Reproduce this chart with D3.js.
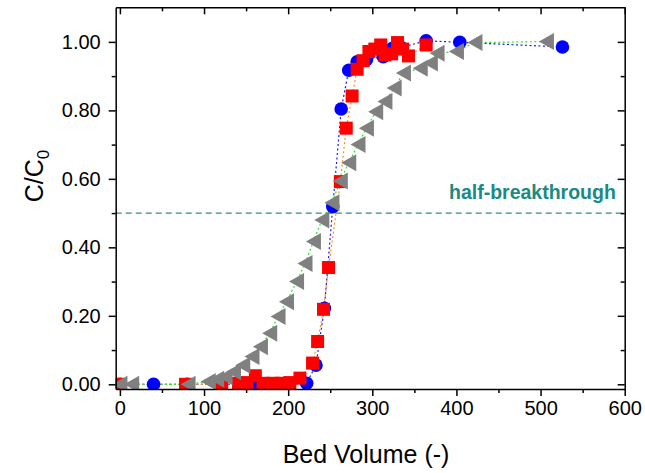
<!DOCTYPE html>
<html>
<head>
<meta charset="utf-8">
<script src="https://cdn.jsdelivr.net/npm/d3@7/dist/d3.min.js"></script>
<style>
    body { margin: 0; background: #fff; }
    svg { font-family: "Liberation Sans", Arial, sans-serif; }
</style>
</head>
<body>
<svg id="chart" width="645" height="473"></svg>
<script>
    "use strict";
    // series: bed volume (-) vs C/C0
    var blueBV  = [0, 40, 80, 142, 160, 200, 222, 233, 243, 253, 263, 272, 282, 293, 313, 324, 334, 364, 404, 526],
        blueC   = [0, 0, 0, 0, 0, 0, 0.003, 0.056, 0.222, 0.519, 0.804, 0.917, 0.942, 0.948, 0.957, 0.981, 0.984, 1.003, 0.999, 0.985];
    var redBV   = [0, 78, 121, 141, 151, 161, 170, 182, 192, 202, 214, 229, 235, 242, 248, 262, 269, 276, 282, 289, 296, 303, 310, 315, 323, 330, 336, 343, 364],
        redC    = [0, 0, 0, 0.003, 0.005, 0.025, 0.003, 0.003, 0.003, 0.005, 0.018, 0.062, 0.125, 0.219, 0.341, 0.592, 0.748, 0.842, 0.92, 0.945, 0.972, 0.979, 0.991, 0.962, 0.965, 0.998, 0.979, 0.959, 0.991];
    var grayBV  = [0, 14, 81, 105, 115, 125, 135, 146, 157, 167, 178, 188, 198, 210, 220, 230, 240, 252, 262, 272, 283, 293, 304, 315, 326, 337, 357, 369, 377, 400, 422, 507],
        grayC   = [0, 0, 0, 0.008, 0.015, 0.022, 0.037, 0.056, 0.081, 0.11, 0.149, 0.198, 0.241, 0.30, 0.353, 0.417, 0.48, 0.53, 0.594, 0.647, 0.70, 0.748, 0.796, 0.826, 0.865, 0.909, 0.923, 0.938, 0.967, 0.972, 0.998, 1.001];
    var xTicks  = [0, 100, 200, 300, 400, 500, 600],
        xMinor  = [50, 150, 250, 350, 450, 550],
        yTicks  = [0, 0.2, 0.4, 0.6, 0.8, 1.0],
        yMinor  = [0.1, 0.3, 0.5, 0.7, 0.9],
        halfLevel = 0.5;

    var margin = {left: 115.7, top: 7.3},
        w = 509,
        h = 381.7;

    var svg = d3.select("#chart");
    var g = svg.append("g").attr("transform", "translate(" + margin.left + "," + margin.top + ")");

    var x = d3.scaleLinear().domain([-5, 600]).range([0, w]),
        y = d3.scaleLinear().domain([-0.0137, 1.101]).range([h, 0]);

    g.append("clipPath").attr("id", "clip")
        .append("rect").attr("width", w).attr("height", h);

    function zip(a, b) {
        return a.map(function (d, i) { return {x: d, y: b[i]}; });
    }
    var series = [
        {data: zip(blueBV, blueC), line: "#1a1aff", fill: "#0000ff", shape: "circle"},
        {data: zip(redBV, redC), line: "#ff8c1a", fill: "#ff0000", shape: "square"},
        {data: zip(grayBV, grayC), line: "#33e033", fill: "#808080", shape: "triangle"}
    ];

    // half-breakthrough reference
    g.append("line")
        .attr("x1", 0).attr("x2", w)
        .attr("y1", y(halfLevel)).attr("y2", y(halfLevel))
        .attr("stroke", "#2a8f8c")
        .attr("stroke-width", 1.2)
        .attr("stroke-dasharray", "6,4");
    svg.append("text")
        .attr("x", 449).attr("y", 199)
        .attr("fill", "#1a8a84")
        .attr("font-weight", "bold")
        .attr("font-size", 19.5)
        .text("half-breakthrough");

    var plot = g.append("g").attr("clip-path", "url(#clip)");
    var line = d3.line().x(function (d) { return x(d.x); }).y(function (d) { return y(d.y); });

    series.forEach(function (s) {
        plot.append("path")
            .datum(s.data)
            .attr("d", line)
            .attr("fill", "none")
            .attr("stroke", s.line)
            .attr("stroke-width", 1.2)
            .attr("stroke-dasharray", "2,2.5");
    });

    var tri = "M-7.5,0L7.5,-8.5L7.5,8.5Z";
    series.forEach(function (s) {
        var m = plot.append("g").selectAll(".pt").data(s.data).enter();
        if (s.shape === "circle") {
            m.append("circle")
                .attr("cx", function (d) { return x(d.x); })
                .attr("cy", function (d) { return y(d.y); })
                .attr("r", 6.8)
                .attr("fill", s.fill);
        } else if (s.shape === "square") {
            m.append("rect")
                .attr("x", function (d) { return x(d.x) - 6.5; })
                .attr("y", function (d) { return y(d.y) - 6.5; })
                .attr("width", 13).attr("height", 13)
                .attr("fill", s.fill);
        } else {
            m.append("path")
                .attr("d", tri)
                .attr("transform", function (d) { return "translate(" + x(d.x) + "," + y(d.y) + ")"; })
                .attr("fill", s.fill);
        }
    });

    // axes
    function styleAxis(sel) {
        sel.selectAll("path, line").attr("stroke", "#000").attr("stroke-width", 1.5);
        sel.selectAll("text").attr("font-size", 20).attr("fill", "#000");
        sel.attr("font-family", null);
    }
    var none = function () { return ""; };

    g.append("g").attr("transform", "translate(0," + h + ")")
        .call(d3.axisBottom(x).tickValues(xTicks).tickSize(7).tickSizeOuter(0).tickPadding(5))
        .call(styleAxis);
    g.append("g").attr("transform", "translate(0," + h + ")")
        .call(d3.axisBottom(x).tickValues(xMinor).tickSize(4).tickFormat(none))
        .call(styleAxis).select(".domain").remove();
    g.append("g")
        .call(d3.axisBottom(x).tickValues(xTicks).tickSize(7).tickSizeOuter(0).tickFormat(none))
        .call(styleAxis);
    g.append("g")
        .call(d3.axisBottom(x).tickValues(xMinor).tickSize(4).tickFormat(none))
        .call(styleAxis).select(".domain").remove();

    g.append("g")
        .call(d3.axisLeft(y).tickValues(yTicks).tickSize(7).tickSizeOuter(0).tickPadding(8).tickFormat(d3.format(".2f")))
        .call(styleAxis);
    g.append("g")
        .call(d3.axisLeft(y).tickValues(yMinor).tickSize(4).tickFormat(none))
        .call(styleAxis).select(".domain").remove();
    g.append("g").attr("transform", "translate(" + w + ",0)")
        .call(d3.axisLeft(y).tickValues(yTicks).tickSize(7).tickSizeOuter(0).tickFormat(none))
        .call(styleAxis);
    g.append("g").attr("transform", "translate(" + w + ",0)")
        .call(d3.axisLeft(y).tickValues(yMinor).tickSize(4).tickFormat(none))
        .call(styleAxis).select(".domain").remove();

    // titles
    svg.append("text")
        .attr("x", 366).attr("y", 463)
        .attr("text-anchor", "middle")
        .attr("font-size", 25)
        .text("Bed Volume (-)");
    var yt = svg.append("text")
        .attr("transform", "translate(43,176) rotate(-90)")
        .attr("text-anchor", "middle")
        .attr("font-size", 25);
    yt.append("tspan").text("C/C");
    yt.append("tspan").attr("font-size", 17).attr("dy", 6).text("0");
</script>
</body>
</html>
